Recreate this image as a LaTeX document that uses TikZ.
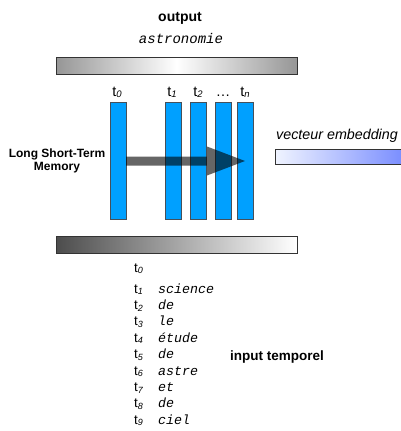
\documentclass[tikz,border=0pt]{standalone}
\usepackage{fontspec}
\setmainfont{Liberation Sans}
\newfontfamily\monoit{Liberation Mono}
\usetikzlibrary{calc}
\definecolor{cellblue}{RGB}{0,160,255}
\definecolor{celledge}{RGB}{70,80,90}
\definecolor{embleft}{RGB}{240,244,255}
\definecolor{embright}{RGB}{120,140,255}
\definecolor{barend}{RGB}{150,150,150}
\newcommand{\tlab}[1]{t\raisebox{-0.12em}{\fontsize{9.5}{9.5}\selectfont\itshape #1}}
\newcommand{\tsm}[1]{t\raisebox{-0.12em}{\fontsize{9}{9}\selectfont\itshape #1}}
\newcommand{\word}[1]{{\monoit\itshape\fontsize{13.3}{13.3}\selectfont #1}}
\begin{document}
\begin{tikzpicture}[x=1pt,y=-1pt,
  cell/.style={draw=celledge,line width=0.6pt,fill=cellblue},
  bar/.style={draw=black!80,line width=0.6pt},
  tlabel/.style={font=\fontsize{14.5}{14.5}\selectfont,anchor=base,inner sep=0pt},
  tcol/.style={font=\fontsize{13.5}{13.5}\selectfont,anchor=base west,inner sep=0pt},
  wcol/.style={anchor=base west,inner sep=0pt},
  heading/.style={font=\bfseries\fontsize{14}{14}\selectfont,inner sep=0pt}]
\useasboundingbox (0,0) rectangle (401,431);

% output layer: grey at both ends, white in the middle
\node[heading,anchor=base] (out) at (180,21) {output};
\node[anchor=base,inner sep=0pt] (astro) at (181,43) {{\monoit\itshape\fontsize{14}{14}\selectfont astronomie}};
\shade[left color=barend,right color=white] (56,57) rectangle (176.5,74);
\shade[left color=white,right color=barend] (176.5,57) rectangle (297,74);
\draw[bar] (56,57) rectangle (297,74);

% recurrent cells
\path[cell] (110,102) rectangle (126,219);
\path[cell] (165,102) rectangle (181,219);
\path[cell] (190,102) rectangle (206,219);
\path[cell] (215,102) rectangle (231,219);
\path[cell] (237,102) rectangle (253,219);
\coordinate (c0) at (117,102);
\coordinate (c1) at (172,102);
\coordinate (c2) at (198,102);
\coordinate (c3) at (223,102);
\coordinate (c4) at (245,102);

\node[tlabel] (l0) at ($(c0)+(0,-6)$) {\tlab{0}};
\node[tlabel] (l1) at ($(c1)+(0,-6)$) {\tlab{1}};
\node[tlabel] (l2) at ($(c2)+(0,-6)$) {\tlab{2}};
\node[tlabel] (l3) at ($(c3)+(0,-6)$) {\ldots};
\node[tlabel] (l4) at ($(c4)+(0,-6)$) {\tlab{n}};

% state passed along the sequence
\coordinate (as) at (126,161);
\coordinate (tip) at (245,161);
\fill[black,fill opacity=0.6]
  ($(as)+(0,-4.5)$) -- (207,156.5) -- (207,146.5) -- (tip) -- (207,175.5) -- (207,165.5) -- ($(as)+(0,4.5)$) -- cycle;

\node[font=\bfseries\fontsize{12}{13}\selectfont,align=center,inner sep=0pt] (lstm) at (57,161) {Long Short-Term\\Memory};

% embedding vector
\node[font=\itshape\fontsize{14.3}{14.3}\selectfont,anchor=base west,inner sep=0pt] (emb) at (276,139) {vecteur embedding};
\shade[bar,left color=embleft,right color=embright] (275,149) rectangle (405,164);

% input layer
\shade[bar,left color=black!70,right color=white] (56,236) rectangle (297,253);

\node[tcol] (i0) at (134,272) {\tsm{0}};
\foreach \k/\w [count=\r] in {1/science,2/de,3/le,4/étude,5/de,6/astre,7/et,8/de,9/ciel}{
  \node[tcol] (t\k) at (134,{293+16.4*(\r-1)}) {\tsm{\k}};
  \node[wcol] (w\k) at (158,{293+16.4*(\r-1)}) {\word{\w}};
}
\node[heading,anchor=base west,font=\bfseries\fontsize{13.5}{13.5}\selectfont] (inp) at (230,360) {input temporel};
\end{tikzpicture}
\end{document}
